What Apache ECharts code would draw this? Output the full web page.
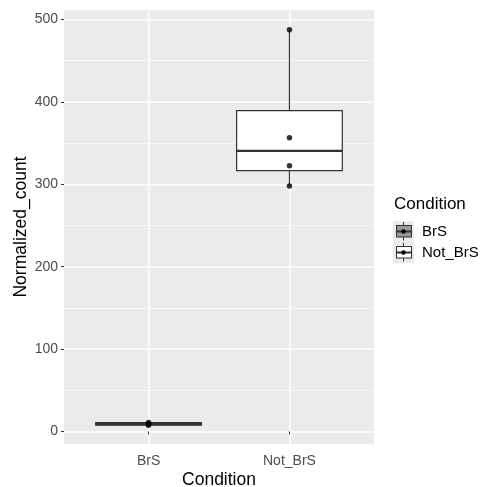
<!DOCTYPE html>
<html><head><meta charset="utf-8">
<script src="https://cdn.jsdelivr.net/npm/echarts@6/dist/echarts.min.js"></script>
<style>html,body{margin:0;padding:0;background:#fff}#c{width:484px;height:487px}</style>
</head><body><div id="c"></div>
<script>
// ---- data ----
const categories = ['BrS', 'Not_BrS'];
// box stats: [min, q1, median, q3, max]
const boxBrS = [7.4, 7.6, 9.0, 10.8, 11.0];
const boxNotBrS = [298, 316.5, 340.5, 389.5, 487.5];
const pointsBrS = [7.6, 8.6, 9.4, 10.8];
const pointsNotBrS = [298, 322.5, 356.5, 487.5];
const yTicks = [0, 100, 200, 300, 400, 500];
const yMinorTicks = [50, 150, 250, 350, 450];
const fills = ['#999999', '#FFFFFF'];

const FONT = 'Liberation Sans, Arial, sans-serif';
const boxes = [boxBrS, boxNotBrS];
const points = [pointsBrS, pointsNotBrS];

function keyIcon(fill) {
  const svg = "<svg xmlns='http://www.w3.org/2000/svg' width='21' height='21'>" +
    "<rect width='21' height='21' fill='#EBEBEB'/>" +
    "<line x1='10.5' y1='1' x2='10.5' y2='19.5' stroke='#333' stroke-width='1'/>" +
    "<rect x='3.5' y='4.5' width='15' height='11.5' fill='" + fill + "' stroke='#333' stroke-width='1'/>" +
    "<line x1='3.5' y1='10.5' x2='18.5' y2='10.5' stroke='#333' stroke-width='2'/>" +
    "<circle cx='10.5' cy='10.5' r='2.2' fill='#000'/></svg>";
  return 'image://data:image/svg+xml;charset=utf-8,' + encodeURIComponent(svg);
}

function renderBox(params, api) {
  const x = api.value(0);
  const pMin = api.coord([x, api.value(1)]);
  const pQ1 = api.coord([x, api.value(2)]);
  const pMed = api.coord([x, api.value(3)]);
  const pQ3 = api.coord([x, api.value(4)]);
  const pMax = api.coord([x, api.value(5)]);
  const w = api.size([0.75, 0])[0];
  const fill = fills[params.seriesIndex];
  const stroke = {stroke: '#333333', lineWidth: 1.2, fill: null};
  return {
    type: 'group',
    children: [
      {type: 'line', shape: {x1: pMin[0], y1: pMin[1], x2: pQ1[0], y2: pQ1[1]}, style: stroke},
      {type: 'line', shape: {x1: pQ3[0], y1: pQ3[1], x2: pMax[0], y2: pMax[1]}, style: stroke},
      {type: 'rect', shape: {x: pQ3[0] - w / 2, y: pQ3[1], width: w, height: pQ1[1] - pQ3[1]},
        style: {fill: fill, stroke: '#333333', lineWidth: 1.2}},
      {type: 'line', shape: {x1: pMed[0] - w / 2, y1: pMed[1], x2: pMed[0] + w / 2, y2: pMed[1]},
        style: {stroke: '#333333', lineWidth: 2.4}}
    ]
  };
}

const series = [];
categories.forEach((c, i) => {
  series.push({
    name: c, type: 'custom', renderItem: renderBox,
    itemStyle: {color: fills[i]},
    data: [[i + 1].concat(boxes[i])],
    z: 2
  });
});
categories.forEach((c, i) => {
  series.push({
    name: c + '_pts', type: 'scatter', symbolSize: 5.5,
    itemStyle: {color: '#000000'},
    data: points[i].map(v => [i + 1, v]),
    z: 3
  });
});

const chart = echarts.init(document.getElementById('c'), null, {renderer: 'canvas'});
chart.setOption({
  animation: false,
  backgroundColor: '#FFFFFF',
  textStyle: {fontFamily: FONT},
  grid: {left: 64, right: 110, top: 10, bottom: 43, show: true,
    backgroundColor: '#EBEBEB', borderWidth: 0, containLabel: false, outerBoundsMode: 'none'},
  title: {text: 'Condition', left: 394, top: 196, padding: 0,
    textStyle: {fontSize: 17, fontWeight: 'normal', color: '#000', fontFamily: FONT}},
  legend: {
    orient: 'vertical', left: 393, top: 221, padding: 0,
    itemWidth: 21, itemHeight: 21, itemGap: 0,
    textStyle: {fontSize: 15, color: '#000', fontFamily: FONT, padding: [0, 0, 0, 3]},
    data: categories.map((c, i) => ({name: c, icon: keyIcon(fills[i])})),
    selectedMode: false
  },
  xAxis: {
    type: 'value', min: 0.4, max: 2.6,
    name: 'Condition', nameLocation: 'middle', nameGap: 27, nameMoveOverlap: false,
    nameTextStyle: {fontSize: 17.5, color: '#000', fontFamily: FONT},
    axisLine: {show: false},
    axisTick: {show: true, length: 3, customValues: [1, 2], lineStyle: {color: '#333', width: 1}},
    axisLabel: {customValues: [1, 2], formatter: v => categories[Math.round(v) - 1],
      fontSize: 14, color: '#4D4D4D', margin: 10, fontFamily: FONT},
    splitLine: {show: true, lineStyle: {color: '#FFFFFF', width: 1.5}}
  },
  yAxis: [{
    type: 'value', min: -15.2, max: 511.5,
    name: 'Normalized_count', nameLocation: 'middle', nameGap: 34, nameRotate: 90,
    nameMoveOverlap: false,
    nameTextStyle: {fontSize: 17.5, color: '#000', fontFamily: FONT},
    axisLine: {show: false},
    axisTick: {show: true, length: 3, customValues: yTicks, lineStyle: {color: '#333', width: 1}},
    axisLabel: {customValues: yTicks, fontSize: 14, color: '#4D4D4D', margin: 6, fontFamily: FONT},
    splitLine: {show: true, lineStyle: {color: '#FFFFFF', width: 1.5}}
  }, {
    type: 'value', min: -15.2, max: 511.5, position: 'left',
    axisLine: {show: false},
    axisTick: {show: false, customValues: yMinorTicks},
    axisLabel: {show: false, customValues: yMinorTicks},
    splitLine: {show: true, lineStyle: {color: '#FFFFFF', width: 0.6}}
  }],
  series: series
});
</script></body></html>
